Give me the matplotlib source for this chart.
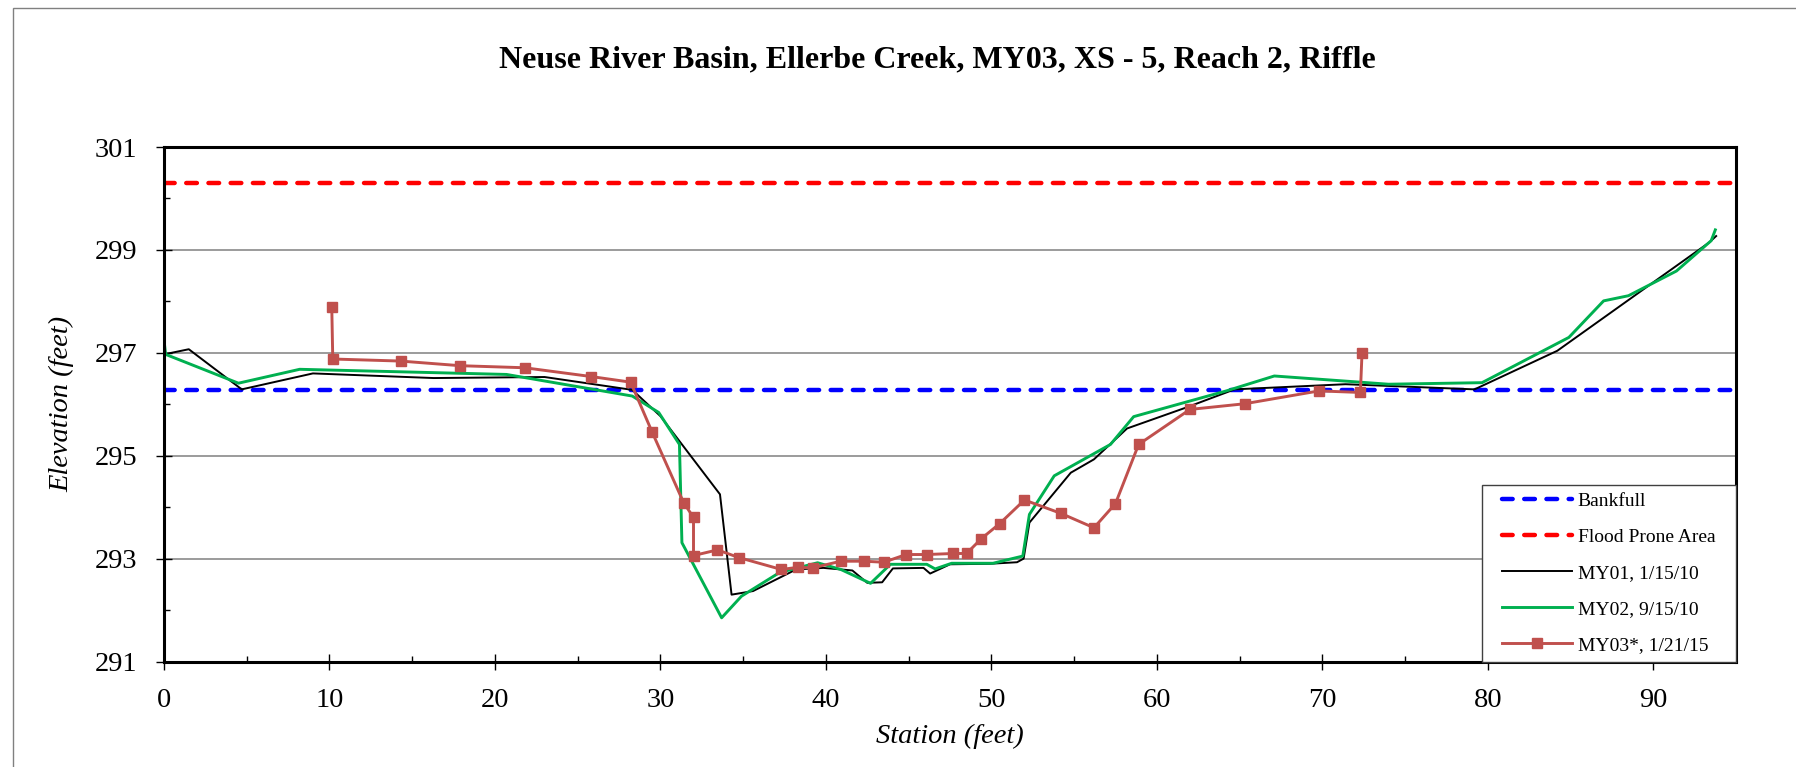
import matplotlib
matplotlib.use("Agg")
import matplotlib.pyplot as plt
from matplotlib.patches import Rectangle
from matplotlib.lines import Line2D
from matplotlib.legend_handler import HandlerLine2D

title = "Neuse River Basin, Ellerbe Creek, MY03, XS - 5, Reach 2, Riffle"

bankfull = 296.27
flood_prone = 300.30

my01_x = [0.0, 1.5, 4.7, 9.0, 16.3, 23.0, 28.3, 30.0, 33.6, 34.3, 35.6, 38.2, 39.85,
          41.6, 42.5, 43.4, 44.05, 45.9, 46.3, 47.5, 49.9, 51.55, 51.95, 52.3, 54.8,
          56.2, 58.2, 61.8, 64.7, 71.4, 79.2, 84.2, 93.4, 93.8]
my01_y = [296.97, 297.07, 296.29, 296.60, 296.51, 296.53, 296.28, 295.77, 294.25, 292.30,
          292.37, 292.79, 292.82, 292.77, 292.53, 292.54, 292.81, 292.82, 292.71, 292.89,
          292.90, 292.93, 293.00, 293.70, 294.67, 294.93, 295.53, 295.94, 296.29, 296.39,
          296.29, 297.04, 299.15, 299.27]

my02_x = [0.0, 0.1, 4.5, 8.2, 20.7, 28.3, 29.9, 31.15, 31.3, 33.7, 34.9, 37.2, 39.5,
          40.9, 42.7, 43.9, 46.1, 46.6, 47.6, 50.1, 51.9, 52.3, 53.8, 57.2, 58.6, 64.2,
          67.1, 74.0, 79.65, 84.9, 87.0, 88.5, 91.4, 93.5, 93.75]
my02_y = [297.25, 296.97, 296.41, 296.68, 296.58, 296.16, 295.84, 295.22, 293.31, 291.85,
          292.27, 292.73, 292.92, 292.79, 292.52, 292.89, 292.89, 292.80, 292.91, 292.91,
          293.05, 293.86, 294.61, 295.22, 295.76, 296.26, 296.55, 296.39, 296.42, 297.30,
          298.01, 298.11, 298.59, 299.18, 299.39]

my03_x = [10.14, 10.2, 14.3, 17.9, 21.8, 25.8, 28.2, 29.5, 31.4, 32.0, 32.0, 33.45, 34.75,
          37.3, 38.3, 39.2, 40.9, 42.3, 43.5, 44.85, 46.1, 47.7, 48.5, 49.4, 50.5, 52.0,
          54.2, 56.2, 57.5, 58.9, 62.0, 65.3, 69.8, 72.3, 72.4]
my03_y = [297.89, 296.88, 296.84, 296.75, 296.71, 296.54, 296.43, 295.46, 294.09, 293.80,
          293.06, 293.17, 293.02, 292.79, 292.83, 292.82, 292.95, 292.95, 292.93, 293.08,
          293.08, 293.10, 293.10, 293.39, 293.68, 294.14, 293.88, 293.60, 294.07, 295.22,
          295.90, 296.01, 296.26, 296.23, 297.00]

x_max = 95.0

plt.rcParams["font.family"] = ["Liberation Serif", "DejaVu Serif"]

fig = plt.figure(figsize=(17.96, 7.67), dpi=100)
ax = fig.add_axes([0.0913, 0.1375, 0.8753, 0.6708])

# outer chart frame (runs off the right/bottom edge like the original)
fig.patches.append(Rectangle((0.0072, -0.05), 1.2, 0.9896 + 0.05, transform=fig.transFigure,
                             fill=False, edgecolor="#808080", linewidth=1.0))

dash = dict(linewidth=3.2, dashes=(2.4, 2.6), dash_capstyle="round")
ax.plot([0, x_max], [bankfull, bankfull], color="#0000FF", label="Bankfull", **dash)
ax.plot([0, x_max], [flood_prone, flood_prone], color="#FF0000", label="Flood Prone Area", **dash)
ax.plot(my01_x, my01_y, color="black", linewidth=1.4, label="MY01, 1/15/10")
ax.plot(my02_x, my02_y, color="#00B050", linewidth=2.1, label="MY02, 9/15/10")
ax.plot(my03_x, my03_y, color="#C0504D", linewidth=2.1, marker="s", markersize=6.5,
        label="MY03*, 1/21/15")

ax.set_xlim(0, x_max)
ax.set_ylim(291, 301)
ax.set_xticks(range(0, 91, 10))
ax.set_xticks(range(5, 96, 10), minor=True)
ax.set_yticks(range(291, 302, 2))
ax.set_yticks(range(292, 301, 2), minor=True)
ax.grid(axis="y", which="major", color="#808080", linewidth=1.1)
ax.set_axisbelow(True)

for s in ax.spines.values():
    s.set_linewidth(2.2)
ax.tick_params(which="major", direction="inout", length=12, width=1.0, pad=13, labelsize=20.5)
ax.tick_params(which="minor", direction="in", length=4.5, width=1.0)

ax.set_xlabel("Station (feet)", fontsize=20.5, style="italic", labelpad=8)
ax.set_ylabel("Elevation (feet)", fontsize=20.5, style="italic", labelpad=15)

fig.text(0.5217, 0.922, title, ha="center", va="center", fontsize=23, fontweight="bold")

leg = ax.legend(loc="lower right", bbox_to_anchor=(0.8384, 0, 0.1616, 0.3), mode="expand",
                borderaxespad=0, fontsize=14, handlelength=4.23, handletextpad=0.3,
                labelspacing=0.94, borderpad=0.4, fancybox=False, framealpha=1,
                handler_map={Line2D: HandlerLine2D(xpad=0.63)})
leg.get_frame().set_edgecolor("#404040")
leg.get_frame().set_linewidth(1.0)

fig.savefig("out.png", dpi=100)
